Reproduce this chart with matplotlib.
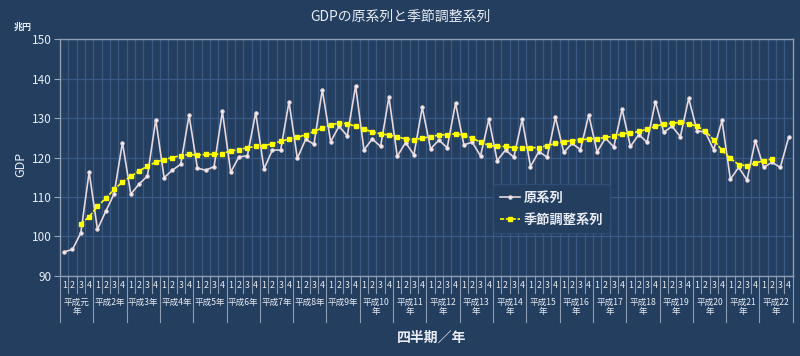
import numpy as np
import matplotlib
matplotlib.use("Agg")
import matplotlib.pyplot as plt
from matplotlib.lines import Line2D

plt.rcParams['font.family'] = ['Noto Sans CJK JP', 'DejaVu Sans']

# 平成元年 Q1 .. 平成22年 Q4
years = ['平成元\n年', '平成2年', '平成3年', '平成4年', '平成5年', '平成6年', '平成7年',
         '平成8年', '平成9年', '平成10\n年', '平成11\n年', '平成12\n年', '平成13\n年',
         '平成14\n年', '平成15\n年', '平成16\n年', '平成17\n年', '平成18\n年',
         '平成19\n年', '平成20\n年', '平成21\n年', '平成22\n年']
quarters = ['1', '2', '3', '4']

# 原系列 (兆円)
raw = [96.1, 96.7, 100.9, 116.3,
       101.8, 106.4, 110.8, 123.8,
       110.7, 113.3, 115.3, 129.6,
       114.9, 116.8, 118.3, 130.7,
       117.3, 116.8, 117.7, 131.7,
       116.3, 120.2, 120.4, 131.4,
       117.1, 121.9, 121.9, 134.1,
       119.8, 124.6, 123.4, 137.2,
       124.0, 127.9, 125.5, 138.2,
       121.9, 124.7, 122.8, 135.3,
       120.3, 123.8, 120.7, 132.7,
       122.2, 124.4, 122.5, 133.8,
       123.2, 123.9, 120.4, 129.7,
       119.2, 121.9, 120.1, 129.7,
       117.7, 121.5, 120.1, 130.2,
       121.3, 123.6, 122.0, 130.8,
       121.4, 124.9, 122.7, 132.3,
       122.8, 125.8, 123.9, 134.2,
       126.4, 127.9, 125.3, 135.0,
       126.8, 126.4, 122.0, 129.4,
       114.5, 117.5, 114.3, 124.3,
       117.5, 118.8, 117.5, 125.1]

# 季節調整系列 (平成元年Q3 .. 平成22年Q2)
sa = [None, None, 103.2, 105.0,
      107.6, 109.7, 111.9, 113.8,
      115.2, 116.6, 117.8, 118.8,
      119.5, 120.0, 120.5, 120.8,
      120.6, 120.8, 120.8, 121.0,
      121.7, 122.0, 122.5, 122.8,
      123.0, 123.5, 124.1, 124.7,
      125.1, 125.8, 126.6, 127.5,
      128.3, 128.7, 128.6, 127.9,
      127.2, 126.5, 126.0, 125.7,
      125.3, 124.7, 124.5, 124.9,
      125.3, 125.7, 125.8, 126.0,
      125.7, 124.9, 123.9, 123.1,
      122.8, 122.8, 122.5, 122.5,
      122.5, 122.5, 123.0, 123.6,
      124.0, 124.3, 124.5, 124.7,
      124.8, 125.1, 125.4, 126.0,
      126.2, 126.6, 127.2, 127.9,
      128.5, 128.7, 128.9, 128.6,
      127.9, 126.7, 124.5, 121.8,
      119.8, 118.2, 117.9, 118.6,
      119.2, 119.6, None, None]

bg = '#243e60'
grid_c = '#395a84'
txt = '#e8ecf2'

n = len(raw)
x = np.arange(n)
sa_arr = np.array([np.nan if v is None else v for v in sa])

fig = plt.figure(figsize=(8, 3.56), dpi=100, facecolor=bg)
ax = fig.add_axes([0.075, 0.225, 0.916, 0.665], facecolor=bg)

ax.plot(x, raw, color='#e6d8dc', lw=1.2, marker='o', ms=2.2,
        mfc='white', mec='#e6d8dc', label='原系列', zorder=3)
ax.plot(x, sa_arr, color='#ffff00', lw=1.2, ls=(0, (2.5, 1)), marker='s', ms=3.0,
        mfc='#ffff00', mec='#ffff00', label='季節調整系列', zorder=4)

ax.set_xlim(-0.5, n - 0.5)
ax.set_ylim(90, 150)
ax.set_yticks(np.arange(90, 151, 10))
ax.set_xticks(x)
ax.set_xticklabels(quarters * len(years))
ax.set_xticks(np.arange(0.5, n - 0.5, 1), minor=True)

ax.grid(True, which='minor', axis='x', color=grid_c, lw=0.9)
ax.grid(True, which='major', axis='y', color=grid_c, lw=0.9)
ax.set_axisbelow(True)

ax.tick_params(axis='x', which='both', length=0, pad=4, labelsize=6.3, colors=txt)
ax.tick_params(axis='y', length=4, width=0.8, color='#9aa6b8', pad=2,
               labelsize=8.5, labelcolor=txt)
for s in ax.spines.values():
    s.set_color('#8f9db2')
    s.set_linewidth(1.0)

# separators under the category axis
tr = ax.get_xaxis_transform()
for k in range(n + 1):
    depth = -0.195 if k % 4 == 0 else -0.072
    ax.add_line(Line2D([k - 0.5, k - 0.5], [0, depth], transform=tr,
                       color='#8f9db2', lw=0.8, clip_on=False))

for j, yl in enumerate(years):
    ax.text(4 * j + 1.5, -0.092, yl, transform=tr, ha='center', va='top',
            fontsize=6.2, color=txt, linespacing=1.1)

ax.set_ylabel('GDP', color=txt, fontsize=9)
ax.yaxis.set_label_coords(-0.045, 0.47)
fig.text(0.0175, 0.925, '兆円', color=txt, fontsize=6.5, fontweight='bold',
         ha='left', va='center')
fig.text(0.5, 0.952, 'GDPの原系列と季節調整系列', color=txt, fontsize=10,
         ha='center', va='center')
fig.text(0.54, 0.05, '四半期／年', color=txt, fontsize=10, fontweight='bold',
         ha='center', va='center')

leg = ax.legend(loc='center', bbox_to_anchor=(0.671, 0.285), frameon=True,
                fontsize=9.5, handlelength=1.5, handletextpad=0.3,
                labelspacing=0.6, borderpad=0.5)
leg.get_frame().set_facecolor(bg)
leg.get_frame().set_edgecolor('#2f4d74')
leg.get_frame().set_alpha(1)
for t in leg.get_texts():
    t.set_color(txt)
    t.set_fontweight('bold')

fig.savefig('out.png', dpi=100, facecolor=bg)
